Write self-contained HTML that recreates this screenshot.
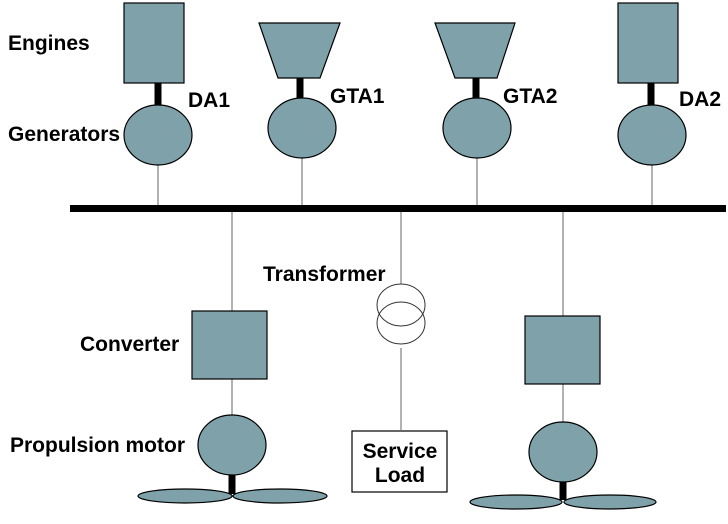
<!DOCTYPE html><html><head><style>body{margin:0;background:#fff}svg{display:block}text{font-family:"Liberation Sans",sans-serif;font-weight:bold;font-size:21px;fill:#000}</style></head><body>
<svg width="728" height="524" viewBox="0 0 728 524">
<g stroke="#999" stroke-width="1.5">
<line x1="158" y1="165" x2="158" y2="208"/><line x1="302" y1="158" x2="302" y2="208"/><line x1="477" y1="158" x2="477" y2="208"/><line x1="652" y1="165" x2="652" y2="208"/>
<line x1="232" y1="208" x2="232" y2="311"/><line x1="232" y1="379" x2="232" y2="415"/>
<line x1="401" y1="208" x2="401" y2="284"/><line x1="401" y1="348" x2="401" y2="430"/>
<line x1="563" y1="208" x2="563" y2="316"/><line x1="563" y1="384" x2="563" y2="422"/>
</g>
<rect x="70" y="205" width="656" height="7" fill="#000"/>
<g stroke="#000" stroke-width="7"><line x1="158" y1="83" x2="158" y2="106"/><line x1="300" y1="78" x2="300" y2="99"/><line x1="476" y1="78" x2="476" y2="99"/><line x1="651" y1="83" x2="651" y2="106"/><line x1="232" y1="474" x2="232" y2="494"/><line x1="563" y1="481" x2="563" y2="500"/></g>
<g fill="#7ea1aa" stroke="#000" stroke-width="1.2">
<rect x="124" y="3" width="60" height="80"/><rect x="618" y="3" width="60" height="80"/>
<polygon points="259,23 340,23 320,78 278,78"/><polygon points="435,23 515,23 497,78 455,78"/>
<ellipse cx="158" cy="135" rx="34" ry="30"/><ellipse cx="302" cy="128" rx="34" ry="30"/><ellipse cx="477" cy="128" rx="34" ry="30"/><ellipse cx="652" cy="135" rx="34" ry="30"/>
<rect x="192" y="311" width="75" height="68"/><rect x="525" y="316" width="75" height="68"/>
<ellipse cx="232" cy="445" rx="34" ry="30"/><ellipse cx="563" cy="452" rx="34" ry="30"/>
<ellipse cx="185" cy="496" rx="47" ry="7"/><ellipse cx="280" cy="496" rx="47" ry="7"/>
<ellipse cx="516" cy="502" rx="46" ry="7"/><ellipse cx="610" cy="502" rx="46" ry="7"/>
</g>
<g fill="none" stroke="#333" stroke-width="1"><ellipse cx="401" cy="305" rx="24" ry="21"/><ellipse cx="401" cy="323" rx="24" ry="21"/></g>
<rect x="352" y="431" width="95" height="61" fill="#fff" stroke="#000" stroke-width="1.2"/>
<text x="8" y="50">Engines</text><text x="8" y="141">Generators</text>
<text x="188" y="107">DA1</text><text x="330" y="103">GTA1</text><text x="503" y="103">GTA2</text><text x="679" y="106">DA2</text>
<text x="263" y="281">Transformer</text><text x="80" y="351">Converter</text><text x="10" y="452">Propulsion motor</text>
<text x="400" y="458" text-anchor="middle">Service</text><text x="400" y="482" text-anchor="middle">Load</text>
</svg></body></html>
